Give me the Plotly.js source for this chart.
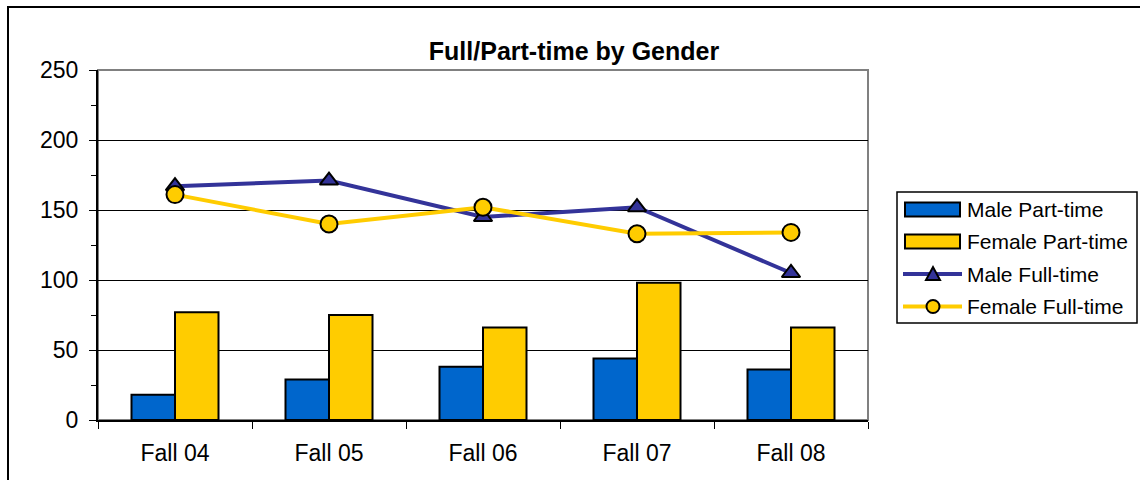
<!DOCTYPE html>
<html><head><meta charset="utf-8">
<script src="https://cdn.plot.ly/plotly-3.0.1.min.js"></script>
<style>
html,body{margin:0;padding:0;background:#fff;}
#frame{position:absolute;left:7px;top:6px;width:1200px;height:500px;border:2px solid #000;box-sizing:border-box;pointer-events:none;z-index:5;}
#chart{position:absolute;left:0;top:0;width:1140px;height:480px;}
</style></head>
<body>
<div id="chart"></div>
<div id="frame"></div>
<script>
const categories = ["Fall 04","Fall 05","Fall 06","Fall 07","Fall 08"];
const malePartTime = [18, 29, 38, 44, 36];
const femalePartTime = [77, 75, 66, 98, 66];
const maleFullTime = [167, 171, 145, 152, 105];
const femaleFullTime = [161, 140, 152, 133, 134];
const seriesNames = ["Male Part-time","Female Part-time","Male Full-time","Female Full-time"];

const font = "'Liberation Sans', Arial, sans-serif";
const BLUE = '#0066CC', YELLOW = '#FFCC00', NAVY = '#333399';

const traces = [
  {type:'bar', name:seriesNames[0], x:categories, y:malePartTime,
   marker:{color:BLUE, line:{color:'#000', width:2}}},
  {type:'bar', name:seriesNames[1], x:categories, y:femalePartTime,
   marker:{color:YELLOW, line:{color:'#000', width:2}}},
  {type:'scatter', mode:'lines+markers', name:seriesNames[2], x:categories, y:maleFullTime,
   line:{color:NAVY, width:4},
   marker:{symbol:'triangle-up', size:16, color:NAVY, line:{color:'#000', width:2}}},
  {type:'scatter', mode:'lines+markers', name:seriesNames[3], x:categories, y:femaleFullTime,
   line:{color:YELLOW, width:4},
   marker:{symbol:'circle', size:17, color:YELLOW, line:{color:'#000', width:2}}}
];

// custom legend drawn in paper coordinates (plot area: x 98..868, y 70..420 px)
const L = 98, W = 770, B = 420, H = 350;
const px = v => (v - L) / W;
const py = v => (B - v) / H;
const shapes = [
  {type:'rect', xref:'paper', yref:'paper', x0:0, x1:1, y0:0, y1:1, line:{color:'#808080', width:2}, layer:'below'},
  {type:'rect', xref:'paper', yref:'paper', x0:px(897), x1:px(1137), y0:py(192), y1:py(323), line:{color:'#000', width:1.5}, fillcolor:'#fff'}
];
const annotations = [];
const rows = [209.5, 241.5, 274, 306.5];
[[BLUE,0],[YELLOW,1]].forEach(([c,i]) => {
  shapes.push({type:'rect', xref:'paper', yref:'paper', x0:px(905), x1:px(960), y0:py(rows[i]+7), y1:py(rows[i]-7), line:{color:'#000', width:2}, fillcolor:c});
});
shapes.push({type:'line', xref:'paper', yref:'paper', x0:px(903), x1:px(962), y0:py(rows[2]), y1:py(rows[2]), line:{color:NAVY, width:4}});
shapes.push({type:'path', xref:'paper', yref:'paper',
  path:`M ${px(926)} ${py(rows[2]+6)} L ${px(940)} ${py(rows[2]+6)} L ${px(933)} ${py(rows[2]-7)} Z`,
  line:{color:'#000', width:2}, fillcolor:NAVY});
shapes.push({type:'line', xref:'paper', yref:'paper', x0:px(903), x1:px(962), y0:py(rows[3]), y1:py(rows[3]), line:{color:YELLOW, width:4}});
shapes.push({type:'circle', xref:'paper', yref:'paper', x0:px(926.5), x1:px(939.5), y0:py(rows[3]+6.5), y1:py(rows[3]-6.5), line:{color:'#000', width:2}, fillcolor:YELLOW});
seriesNames.forEach((n,i) => {
  annotations.push({xref:'paper', yref:'paper', x:px(965), y:py(rows[i]), xanchor:'left', yanchor:'middle',
    text:n, showarrow:false, font:{size:21, family:font, color:'#000'}});
});

const layout = {
  width:1140, height:480,
  margin:{l:98, r:272, t:70, b:60},
  paper_bgcolor:'#fff', plot_bgcolor:'#fff',
  font:{family:font, size:22, color:'#000'},
  title:{text:'<b>Full/Part-time by Gender</b>', x:574/1140, xref:'container', xanchor:'center', y:1-51/480, yref:'container', yanchor:'middle', font:{size:25, family:font}},
  barmode:'group', bargap:0.435, bargroupgap:0,
  showlegend:false,
  xaxis:{type:'category', tickson:'boundaries', ticks:'outside', ticklen:7, tickcolor:'#000',
    showline:true, linecolor:'#000', linewidth:2, showgrid:false, tickfont:{size:23}, ticklabelstandoff:11},
  yaxis:{range:[0,250], dtick:50, tick0:0, ticks:'outside', ticklen:7, tickcolor:'#000',
    showline:true, linecolor:'#000', linewidth:2, showgrid:true, gridcolor:'#000', gridwidth:1,
    zeroline:false, tickfont:{size:23}, ticklabelstandoff:6,
    minor:{dtick:25, ticks:'outside', ticklen:5, tickcolor:'#000', showgrid:false}},
  shapes:shapes,
  annotations:annotations
};
Plotly.newPlot('chart', traces, layout, {displayModeBar:false, staticPlot:true});
</script>
</body></html>
